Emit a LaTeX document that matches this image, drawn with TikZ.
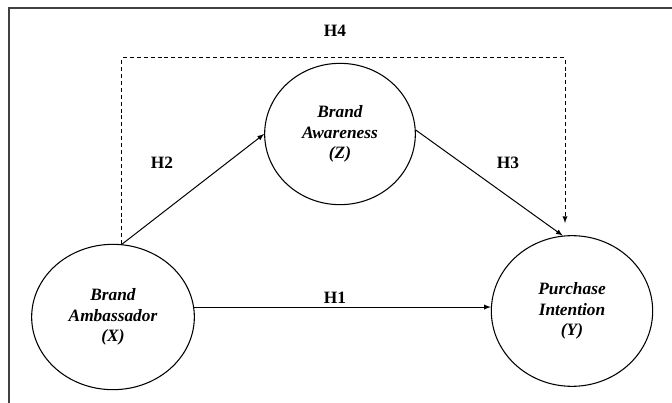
\documentclass[tikz,border=0pt]{standalone}
\usepackage{fontspec}
\setmainfont{Liberation Serif}
\usetikzlibrary{shapes.geometric,positioning,calc}

\begin{document}
\begin{tikzpicture}[x=0.75pt,y=-0.75pt,
        construct/.style={ellipse,draw,line width=0.8pt,inner sep=0pt,align=center,
            font=\fontsize{13}{15.4}\selectfont\bfseries\itshape},
        hyp/.style={font=\fontsize{13}{15}\selectfont\bfseries},
        link/.style={->,>=latex,line width=0.75pt}]
        \useasboundingbox (0,0) rectangle (672,403);
        \draw[line width=1.1pt,black!75] (672,8) -- (9,8) -- (9,403);

        \node[construct,minimum width=122pt,minimum height=109pt] (x) at (113,317) {Brand\\Ambassador\\(X)};
        \node[construct,minimum width=113pt,minimum height=106pt] (z) at (340,134) {Brand\\Awareness\\(Z)};
        \node[construct,minimum width=121pt,minimum height=113pt] (y) at (572,311) {Purchase\\Intention\\(Y)};

        \coordinate (h4end) at (565,223);

        \node[hyp] (h1) at (335,298) {H1};
        \node[hyp] (h2) at (162,163) {H2};
        \node[hyp] (h3) at (508,163) {H3};
        \node[hyp] (h4) at (335,31) {H4};

        \draw[link] (x.7) -- (x.7 -| y.west);
        \draw[link] (x.83) -- (z.west);
        \draw[link] (z.3) -- (y.97);
        \draw[link,dash pattern=on 3pt off 2.2pt] (x.83) -- (x.83 |- 0,58) -| (h4end);
    \end{tikzpicture}
\end{document}
